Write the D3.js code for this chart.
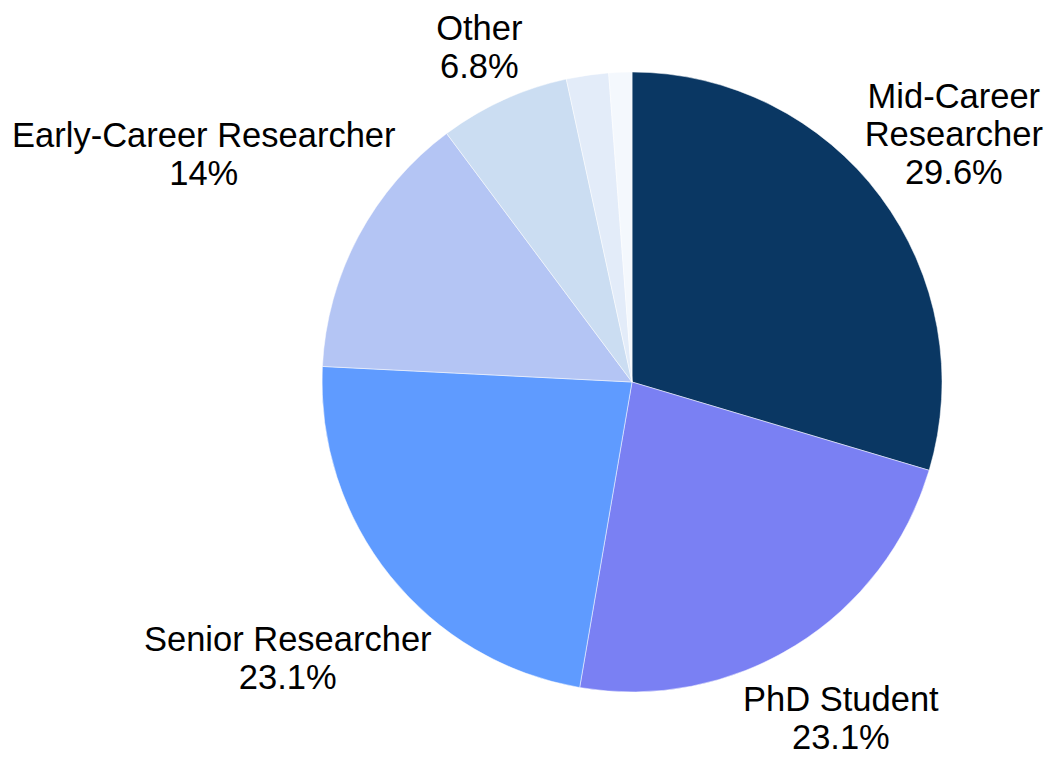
<!DOCTYPE html>
<html>
<head>
<meta charset="utf-8">
<script src="https://cdn.jsdelivr.net/npm/d3@7"></script>
<style>
  body { margin: 0; background: #fff; }
  svg { display: block; }
</style>
</head>
<body>
<script>
// slice data, clockwise from 12 o'clock
var categories = ["Mid-Career Researcher", "PhD Student", "Senior Researcher",
                  "Early-Career Researcher", "Other", "Industry", "Student"];
var shares = [29.6, 23.1, 23.1, 14, 6.8, 2.2, 1.2];
// label lines (empty = no label drawn)
var labelLines = [
    ["Mid-Career", "Researcher", "29.6%"],
    ["PhD Student", "23.1%"],
    ["Senior Researcher", "23.1%"],
    ["Early-Career Researcher", "14%"],
    ["Other", "6.8%"],
    [],
    []
];
var colors = ["#0a3763", "#7a80f3", "#5f9bff", "#b4c5f4", "#cbddf2", "#e3ecf9", "#f4f8fd"];

var width = 1051, height = 763;
var cx = 632, cy = 382, radius = 310;
var fontSize = 34.5, lineH = 38;
var edgePad = 8;

function drawPie(){
    var svg = d3.select("body").append("svg")
        .attr("width", width)
        .attr("height", height);

    var data = categories.map(function(c, i){
        return {name: c, value: shares[i], color: colors[i], lines: labelLines[i]};
    });

    var pie = d3.pie().sort(null).value(function(d){ return d.value; });
    var arc = d3.arc().innerRadius(0).outerRadius(radius);
    var arcs = pie(data);

    var g = svg.append("g").attr("transform", "translate(" + cx + "," + cy + ")");

    g.selectAll("path.slice")
        .data(arcs)
        .enter().append("path")
        .attr("class", "slice")
        .attr("d", arc)
        .attr("fill", function(d){ return d.data.color; })
        .attr("stroke", "#fff")
        .attr("stroke-width", 0.5);

    // outside labels: text box centre pushed out along the mid angle
    var labels = g.selectAll("text.lbl")
        .data(arcs.filter(function(d){ return d.data.lines.length > 0; }))
        .enter().append("text")
        .attr("class", "lbl")
        .attr("text-anchor", "middle")
        .style("font-family", "'Liberation Sans', Arial, Helvetica, sans-serif")
        .style("font-size", fontSize + "px")
        .attr("fill", "#000");

    labels.each(function(d){
        var t = d3.select(this);
        var n = d.data.lines.length;
        d.data.lines.forEach(function(line, i){
            t.append("tspan")
                .attr("x", 0)
                .attr("y", i * lineH)
                .text(line);
        });
        var w2 = this.getBBox().width / 2;
        // visual (cap-height) box of the block
        var top = -0.72 * fontSize, bottom = (n - 1) * lineH;
        var h2 = (bottom - top) / 2;
        var a = (d.startAngle + d.endAngle) / 2;
        var sx = Math.sin(a), sy = -Math.cos(a);
        var dist = radius + 19 + 0.85 * (Math.abs(sx) * w2 + Math.abs(sy) * h2);
        var ox = sx * dist, oy = sy * dist - (top + h2);
        // keep the label inside the picture
        var minX = -cx + edgePad + w2, maxX = width - cx - edgePad - w2;
        ox = Math.max(minX, Math.min(maxX, ox));
        t.attr("transform", "translate(" + ox + "," + oy + ")");
    });
}

drawPie();
</script>
</body>
</html>
